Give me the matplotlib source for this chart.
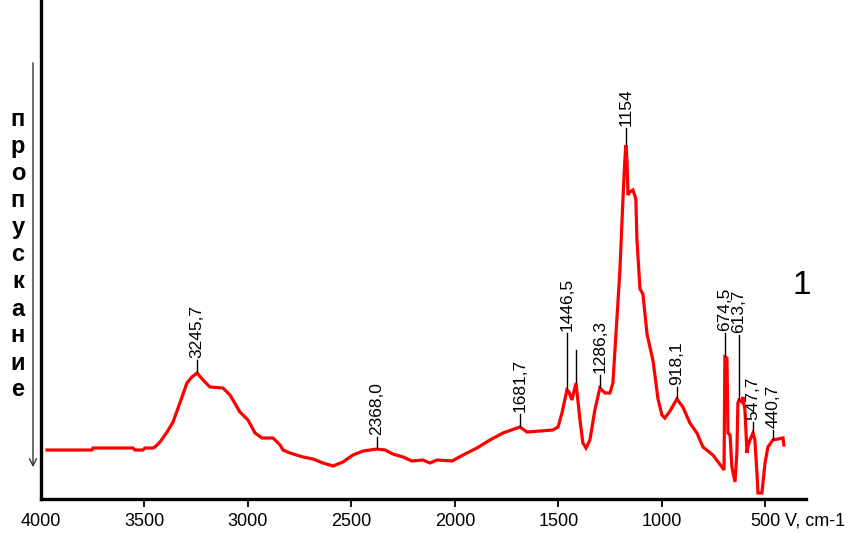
import numpy as np
import matplotlib
matplotlib.use("Agg")
import matplotlib.pyplot as plt

# wavenumber (cm-1) and transmittance (arbitrary units)
wavenumber = [3971, 3754, 3749, 3556, 3546, 3507, 3498, 3459, 3449, 3425, 3391, 3362,
              3329, 3295, 3271, 3246, 3217, 3184, 3121, 3087, 3039, 3000, 2966, 2932,
              2879, 2845, 2831, 2797, 2734, 2686, 2638, 2589, 2541, 2493, 2444, 2377,
              2338, 2300, 2251, 2208, 2155, 2121, 2087, 2014, 1961, 1894, 1831, 1768,
              1700, 1686, 1652, 1589, 1527, 1502, 1483, 1459, 1449, 1435, 1415, 1396,
              1382, 1367, 1348, 1324, 1300, 1275, 1251, 1237, 1217, 1203, 1188, 1179,
              1174, 1169, 1164, 1155, 1140, 1126, 1121, 1106, 1092, 1072, 1043, 1019,
              1000, 986, 961, 928, 899, 865, 831, 802, 754, 710, 700, 696, 686, 681,
              671, 662, 647, 638, 633, 628, 614, 609, 599, 589, 585, 575, 560, 551, 541,
              536, 517, 502, 488, 464, 415, 411]
transmittance = [49, 49, 51, 51, 49, 49, 51, 51, 52, 57, 67, 77,
                 96, 116, 122, 126, 119, 112, 111, 104, 87, 79, 66, 61,
                 61, 54, 49, 46, 42, 40, 36, 33, 37, 44, 48, 50,
                 49, 45, 42, 38, 39, 36, 39, 38, 44, 51, 59, 66,
                 71, 72, 67, 68, 69, 72, 86, 109, 107, 99, 116, 79,
                 56, 51, 59, 89, 111, 106, 106, 116, 182, 229, 302, 340,
                 354, 339, 304, 307, 309, 300, 260, 210, 205, 165, 138, 100,
                 84, 81, 88, 100, 92, 76, 66, 52, 44, 32, 29, 142, 141, 66,
                 64, 32, 17, 46, 96, 99, 97, 102, 89, 46, 52, 59, 66, 59, 26,
                 6, 6, 36, 52, 59, 61, 54]

# peak marks: position on the curve, top of the mark line, label text
peak_pos = [3246, 2377, 1686, 1459, 1415, 1300, 1174, 928, 696, 628, 560, 464]
peak_val = [126, 50, 72, 109, 116, 111, 354, 100, 142, 99, 66, 59]
mark_top = [139, 62, 85, 166, 149, 124, 371, 112, 166, 164, 77, 69]
peak_labels = ["3245,7", "2368,0", "1681,7", "1446,5", "", "1286,3", "1154",
               "918,1", "674,5", "613,7", "547,7", "440,7"]

xticks = [4000, 3500, 3000, 2500, 2000, 1500, 1000, 500]

plt.rcParams['font.family'] = ['Liberation Sans', 'DejaVu Sans']

fig = plt.figure(figsize=(8.53, 5.34), dpi=100)
ax = fig.add_axes([41 / 853, 35 / 534, 765 / 853, 499 / 534])

ax.plot(wavenumber, transmittance, color='#ff0000', lw=2.3, solid_joinstyle='miter')

for x, y0, y1, lab in zip(peak_pos, peak_val, mark_top, peak_labels):
    ax.plot([x, x], [y0 + 1, y1], color='black', lw=1)
    if lab:
        ax.text(x, y1 + 2, lab, rotation=90, ha='center', va='bottom', fontsize=12.5)

ax.set_xlim(4000, 304)
ax.set_ylim(0, 499)
ax.set_xticks(xticks)
ax.set_xticklabels([str(t) for t in xticks], fontsize=13)
ax.set_yticks([])
ax.tick_params(axis='x', direction='out', length=6, width=1.3, pad=4)
ax.get_xticklines()[0].set_visible(False)
for s in ['top', 'right']:
    ax.spines[s].set_visible(False)
for s in ['left', 'bottom']:
    ax.spines[s].set_linewidth(2.4)

fig.text(785 / 853, 1 - 521 / 534, "V, cm-1", fontsize=13, ha='left', va='center')
fig.text(802 / 853, 1 - 286 / 534, "1", fontsize=24, ha='center', va='center')

# vertical axis caption, one letter per line, with the arrow beside it
for i, ch in enumerate("пропускание"):
    fig.text(18 / 853, 1 - (120 + 27 * i) / 534, ch, fontsize=17, fontweight='bold',
             ha='center', va='center')
fig.add_artist(matplotlib.patches.FancyArrowPatch(
    (33 / 853, 1 - 60 / 534), (33 / 853, 1 - 470 / 534), transform=fig.transFigure,
    arrowstyle='->,head_length=5,head_width=2.5', color='#333333', lw=1))

fig.savefig("out.png", dpi=100)
